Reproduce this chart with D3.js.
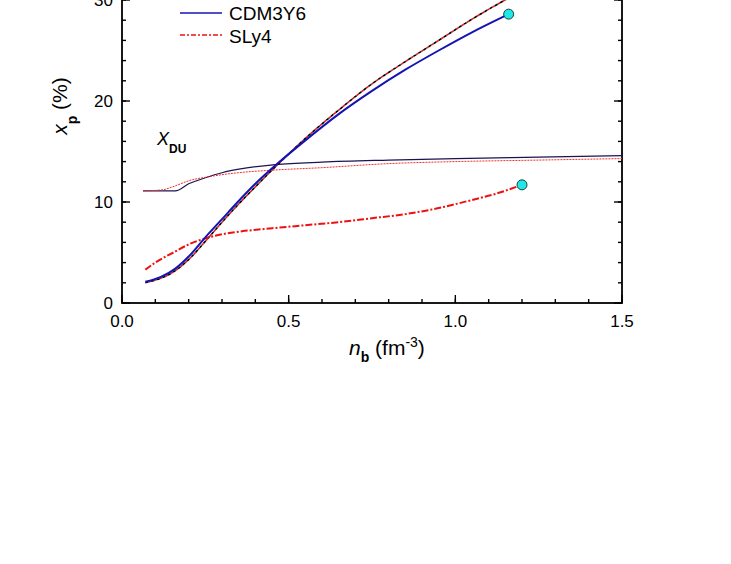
<!DOCTYPE html>
<html>
<head>
<meta charset="utf-8">
<script src="https://cdn.jsdelivr.net/npm/d3@7"></script>
<style>
  body { margin: 0; background: #fff; }
  svg { display: block; font-family: "Liberation Sans", Arial, sans-serif; }
</style>
</head>
<body>
<svg id="chart" width="731" height="564"></svg>
<script>
// proton fraction x_p (%) vs baryon density n_b (fm^-3)
const cdmN = [0.07, 0.16, 0.20, 0.25, 0.30, 0.35, 0.40, 0.47, 0.55, 0.65, 0.75, 0.85, 0.95, 1.05, 1.16];
const cdmXp = [2.1, 3.4, 4.6, 6.5, 8.3, 10.1, 11.8, 13.9, 16.1, 18.7, 21.0, 23.1, 25.0, 26.8, 28.6];

const dashN = [0.07, 0.16, 0.20, 0.25, 0.30, 0.35, 0.40, 0.47, 0.55, 0.65, 0.75, 0.85, 0.95, 1.05, 1.16, 1.25];
const dashXp = [2.0, 3.2, 4.3, 6.1, 8.0, 9.8, 11.5, 13.8, 16.3, 19.1, 21.7, 23.9, 26.0, 28.1, 30.2, 31.8];

const slyN = [0.07, 0.10, 0.16, 0.20, 0.25, 0.30, 0.36, 0.45, 0.55, 0.65, 0.75, 0.85, 0.95, 1.05, 1.12, 1.20];
const slyXp = [3.3, 4.0, 5.1, 5.8, 6.4, 6.8, 7.1, 7.4, 7.7, 8.0, 8.4, 8.8, 9.4, 10.2, 10.8, 11.7];

const cdmDuN = [0.063, 0.10, 0.16, 0.20, 0.25, 0.30, 0.36, 0.46, 0.60, 0.80, 1.00, 1.25, 1.50];
const cdmDu = [11.1, 11.1, 11.1, 11.8, 12.4, 12.9, 13.3, 13.7, 13.95, 14.15, 14.3, 14.45, 14.6];

const slyDuN = [0.063, 0.12, 0.16, 0.20, 0.26, 0.35, 0.45, 0.60, 0.80, 1.00, 1.25, 1.50];
const slyDu = [11.1, 11.2, 11.6, 12.1, 12.5, 12.9, 13.15, 13.4, 13.8, 14.0, 14.15, 14.3];

const xTicks = [0.0, 0.5, 1.0, 1.5];
const yTicks = [0, 10, 20, 30];
const legendNames = ["CDM3Y6", "SLy4"];

const svg = d3.select("#chart");
const x = d3.scaleLinear().domain([0, 1.5]).range([122, 622]);
const y = d3.scaleLinear().domain([0, 30]).range([303, 0]);
const yTop = -50;

const zip = (a, b) => a.map((v, i) => [v, b[i]]);
const line = d3.line().x((d) => x(d[0])).y((d) => y(d[1])).curve(d3.curveMonotoneX);

// frame
svg.append("rect")
  .attr("x", x(0)).attr("y", yTop)
  .attr("width", x(1.5) - x(0)).attr("height", y(0) - yTop)
  .attr("fill", "none").attr("stroke", "#000").attr("stroke-width", 1.8);

const minorX = d3.range(0, 1.501, 0.1);
const minorY = d3.range(0, 35, 2);

function ticks(g, vals, len, orient) {
  g.selectAll("line").data(vals).join("line")
    .attr("stroke", "#000").attr("stroke-width", 1.4)
    .each(function (v) {
      const s = d3.select(this);
      if (orient === "bottom") s.attr("x1", x(v)).attr("x2", x(v)).attr("y1", y(0)).attr("y2", y(0) - len);
      if (orient === "left") s.attr("y1", y(v)).attr("y2", y(v)).attr("x1", x(0)).attr("x2", x(0) + len);
      if (orient === "right") s.attr("y1", y(v)).attr("y2", y(v)).attr("x1", x(1.5)).attr("x2", x(1.5) - len);
    });
}
ticks(svg.append("g"), minorX, 4, "bottom");
ticks(svg.append("g"), xTicks, 8, "bottom");
ticks(svg.append("g"), minorY, 4, "left");
ticks(svg.append("g"), yTicks, 8, "left");
ticks(svg.append("g"), minorY, 4, "right");
ticks(svg.append("g"), yTicks, 8, "right");

svg.append("g").selectAll("text").data(xTicks).join("text")
  .attr("x", (d) => x(d)).attr("y", 327)
  .attr("text-anchor", "middle").attr("font-size", 17)
  .text((d) => d.toFixed(1));

svg.append("g").selectAll("text").data(yTicks).join("text")
  .attr("x", 113).attr("y", (d) => y(d) + 6)
  .attr("text-anchor", "end").attr("font-size", 17)
  .text((d) => d);

// curves
svg.append("path").datum(zip(cdmDuN, cdmDu)).attr("d", line)
  .attr("fill", "none").attr("stroke", "#1c1450").attr("stroke-width", 1.2);
svg.append("path").datum(zip(slyDuN, slyDu)).attr("d", line)
  .attr("fill", "none").attr("stroke", "#f03030").attr("stroke-width", 1)
  .attr("stroke-dasharray", "2,1");

svg.append("path").datum(zip(dashN, dashXp)).attr("d", line)
  .attr("fill", "none").attr("stroke", "#e02020").attr("stroke-width", 1.6)
  .attr("stroke-dasharray", "3,3").attr("stroke-dashoffset", 3);
svg.append("path").datum(zip(dashN, dashXp)).attr("d", line)
  .attr("fill", "none").attr("stroke", "#000").attr("stroke-width", 1.6)
  .attr("stroke-dasharray", "3,3");

svg.append("path").datum(zip(slyN, slyXp)).attr("d", line)
  .attr("fill", "none").attr("stroke", "#ee1111").attr("stroke-width", 2)
  .attr("stroke-dasharray", "7,2,2,2");
svg.append("path").datum(zip(cdmN, cdmXp)).attr("d", line)
  .attr("fill", "none").attr("stroke", "#1414b4").attr("stroke-width", 2);

const ends = [[cdmN.at(-1), cdmXp.at(-1)], [slyN.at(-1), slyXp.at(-1)]];
svg.append("g").selectAll("circle").data(ends).join("circle")
  .attr("cx", (d) => x(d[0])).attr("cy", (d) => y(d[1])).attr("r", 5)
  .attr("fill", "#1ee8e8").attr("stroke", "#204040").attr("stroke-width", 1);

// legend
const leg = svg.append("g");
leg.append("line").attr("x1", 180).attr("x2", 222).attr("y1", 13).attr("y2", 13)
  .attr("stroke", "#1414b4").attr("stroke-width", 1.6);
leg.append("line").attr("x1", 180).attr("x2", 222).attr("y1", 35).attr("y2", 35)
  .attr("stroke", "#ee1111").attr("stroke-width", 1.6).attr("stroke-dasharray", "5,2,2,2");
leg.selectAll("text").data(legendNames).join("text")
  .attr("x", 229).attr("y", (d, i) => 20 + i * 23)
  .attr("font-size", 19).text((d) => d);

// X_DU label
const du = svg.append("text").attr("x", 157).attr("y", 145);
du.append("tspan").attr("font-size", 18).attr("font-style", "italic").text("X");
du.append("tspan").attr("font-size", 12).attr("font-weight", "bold").attr("dy", 8).text("DU");

// axis titles
const xt = svg.append("text").attr("x", 349).attr("y", 355).attr("font-size", 21);
xt.append("tspan").attr("font-style", "italic").text("n");
xt.append("tspan").attr("font-size", 14).attr("font-weight", "bold").attr("dy", 7).text("b");
xt.append("tspan").attr("dy", -7).text(" (fm");
xt.append("tspan").attr("font-size", 14).attr("dy", -8).text("-3");
xt.append("tspan").attr("dy", 8).text(")");

const yt = svg.append("text").attr("transform", "translate(67,106) rotate(-90)")
  .attr("text-anchor", "middle").attr("font-size", 21);
yt.append("tspan").attr("font-style", "italic").text("x");
yt.append("tspan").attr("font-size", 14).attr("font-weight", "bold").attr("dy", 10).text("p");
yt.append("tspan").attr("dy", -10).text(" (%)");
</script>
</body>
</html>
